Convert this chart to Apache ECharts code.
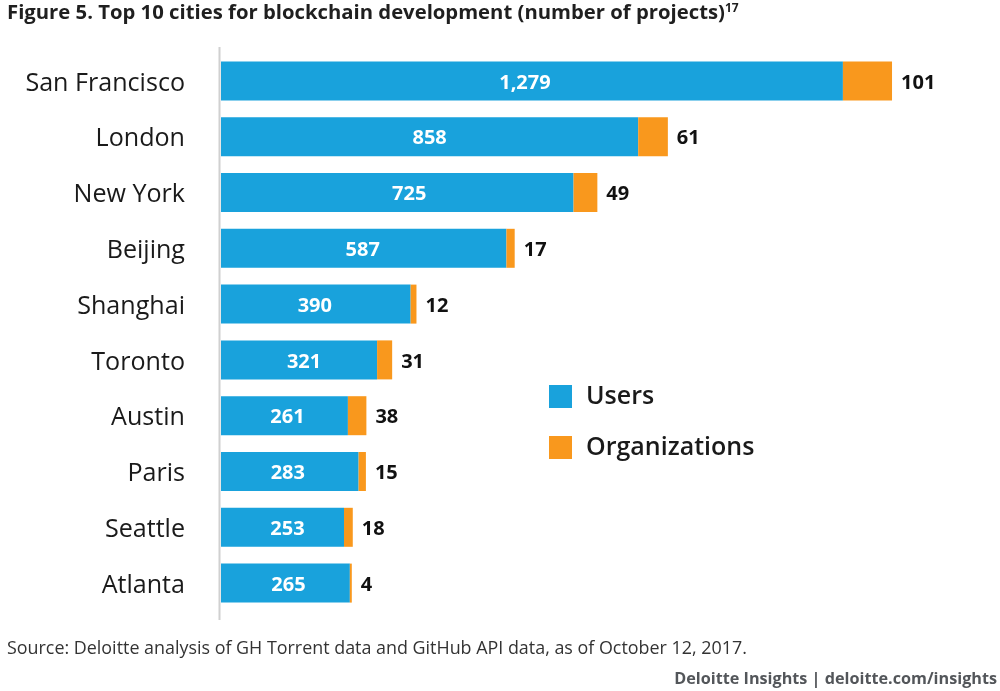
<!DOCTYPE html>
<html>
<head>
<meta charset="utf-8">
<style>
  html, body { margin: 0; padding: 0; background: #fff; }
  #chart { width: 1000px; height: 691px; }
</style>
</head>
<body>
<div id="chart"></div>
<script src="https://cdn.jsdelivr.net/npm/echarts@6/dist/echarts.min.js"></script>
<script>
var cities = ['San Francisco', 'London', 'New York', 'Beijing', 'Shanghai', 'Toronto', 'Austin', 'Paris', 'Seattle', 'Atlanta'];
var users = [1279, 858, 725, 587, 390, 321, 261, 283, 253, 265];
var organizations = [101, 61, 49, 17, 12, 31, 38, 15, 18, 4];

var FONT = '"Open Sans", sans-serif';
// the white numbers are not quite centred in the original
var userLabelNudge = [-7, 0, 12, -1, -1, 5, 3, -2, 5, 3];

var chart = echarts.init(document.getElementById('chart'));

var option = {
  animation: false,
  textStyle: { fontFamily: FONT },
  title: [
    {
      text: 'Figure 5. Top 10 cities for blockchain development (number of projects){sup|17}',
      left: 7, top: 3, padding: 0,
      textStyle: {
        fontFamily: FONT, fontSize: 20.3, fontWeight: 700, color: '#1f1f1f',
        rich: { sup: { fontFamily: FONT, fontSize: 12, fontWeight: 700, color: '#1f1f1f', verticalAlign: 'top', padding: [0, 0, 8, 0] } }
      }
    },
    {
      text: 'Source: Deloitte analysis of GH Torrent data and GitHub API data, as of October 12, 2017.',
      left: 7, top: 640, padding: 0,
      textStyle: { fontFamily: FONT, fontSize: 17.9, fontWeight: 400, color: '#333' }
    },
    {
      text: 'Deloitte Insights | deloitte.com/insights',
      right: 3, top: 671, padding: 0,
      textStyle: { fontFamily: FONT, fontSize: 16.2, fontWeight: 700, color: '#53565a' }
    }
  ],
  legend: {
    orient: 'vertical',
    left: 549, top: 384, padding: 0,
    itemWidth: 23, itemHeight: 23, itemGap: 26,
    icon: 'rect',
    selectedMode: false,
    textStyle: { fontFamily: FONT, fontSize: 25, fontWeight: 600, color: '#1a1a1a', padding: [0, 0, 0, 9] },
    data: ['Users', 'Organizations']
  },
  grid: { left: 221, top: 53, width: 778, height: 558 },
  xAxis: { type: 'value', min: 0, max: 1600, show: false },
  yAxis: {
    type: 'category',
    inverse: true,
    data: cities,
    axisLine: { show: false },
    axisTick: { show: false },
    axisLabel: {
      margin: 36,
      formatter: '{city|{value}}',
      rich: { city: { fontFamily: FONT, fontSize: 25.1, color: '#1a1a1a', padding: [5, 0, 0, 0] } }
    }
  },
  series: [
    {
      name: 'Users',
      type: 'bar',
      stack: 'total',
      barWidth: 39,
      data: users.map(function (v, i) {
        return { value: v, label: { offset: [userLabelNudge[i], 2] } };
      }),
      itemStyle: { color: '#19a2dc' },
      label: {
        show: true, position: 'inside', color: '#fff',
        fontFamily: FONT, fontSize: 20, fontWeight: 700,
        formatter: function (p) { return p.value.toLocaleString('en-US'); }
      }
    },
    {
      name: 'Organizations',
      type: 'bar',
      stack: 'total',
      barWidth: 39,
      data: organizations,
      itemStyle: { color: '#f9981d' },
      label: {
        show: true, position: 'right', distance: 9, offset: [0, 2], color: '#111',
        fontFamily: FONT, fontSize: 20, fontWeight: 700
      }
    }
  ],
  graphic: [
    {
      type: 'line',
      shape: { x1: 219.5, y1: 47, x2: 219.5, y2: 620 },
      style: { stroke: '#d0d0d0', lineWidth: 2 }
    }
  ]
};

chart.setOption(option);
</script>
</body>
</html>
